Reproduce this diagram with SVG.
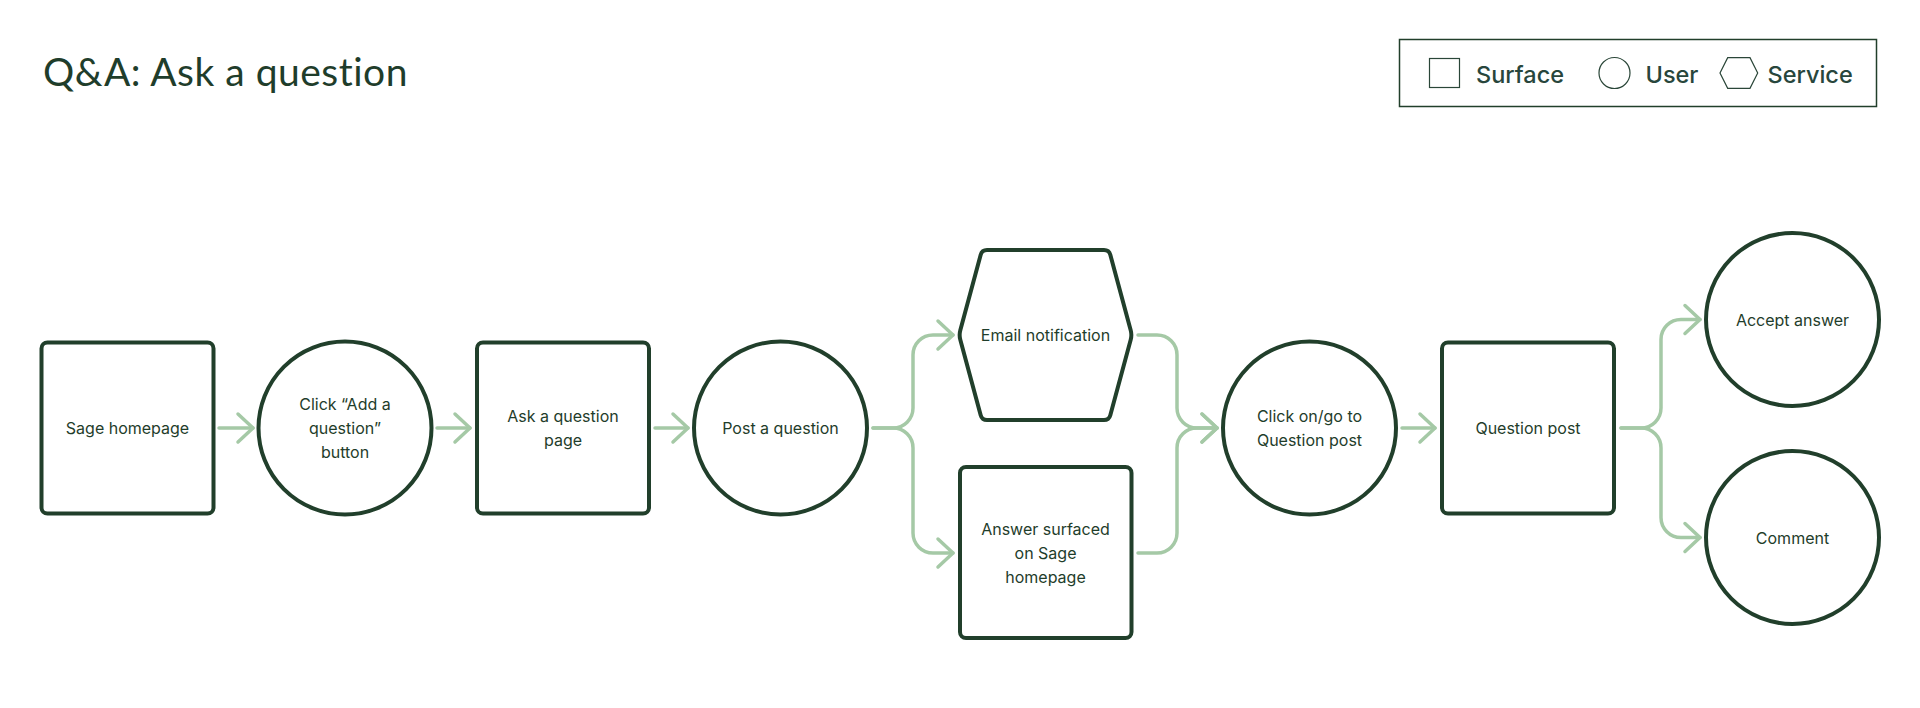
<svg xmlns="http://www.w3.org/2000/svg" width="1920" height="708" viewBox="0 0 1920 708">
<defs>
<style>
.node{fill:#ffffff;stroke:#213f2b;stroke-width:4;stroke-linejoin:round}
.lbl{font-family:Inter,"Noto Sans",sans-serif;font-size:16px;fill:#1f3d2b;text-anchor:middle}
.conn{fill:none;stroke:#a5c9a6;stroke-width:3.5;stroke-linecap:round;stroke-linejoin:round}
.leg{fill:none;stroke:#2a4638;stroke-width:1.2}
.legt{font-family:Inter,"Noto Sans",sans-serif;font-size:23.5px;font-weight:500;fill:#28463c}
</style>
<marker id="chev" markerUnits="userSpaceOnUse" markerWidth="40" markerHeight="40" viewBox="-20 -20 40 40" refX="0" refY="0" orient="auto">
<path d="M-15,-14 L0,0 L-15,14" fill="none" stroke="#a5c9a6" stroke-width="3.5" stroke-linecap="round" stroke-linejoin="round"/>
</marker>
</defs>
<rect width="1920" height="708" fill="#ffffff"/>
<text x="43" y="86" font-family="Lato,'Open Sans',sans-serif" font-size="39" letter-spacing="0.5" fill="#1f3d2b">Q&amp;A: Ask a question</text>
<g id="legend">
<rect x="1399.5" y="39.5" width="477" height="67" fill="none" stroke="#213f2b" stroke-width="1.5"/>
<rect x="1429.5" y="58.5" width="30" height="29" class="leg"/>
<text x="1476" y="82.5" class="legt">Surface</text>
<circle cx="1614.5" cy="73" r="15.5" class="leg"/>
<text x="1645.5" y="82.5" class="legt">User</text>
<polygon points="1720,73 1727.7,57.7 1750,57.7 1757.7,73 1750,88.3 1727.7,88.3" class="leg" stroke="#4f6a5a"/>
<text x="1767.5" y="82.5" class="legt">Service</text>
</g>
<g id="connectors">
<path class="conn" marker-end="url(#chev)" d="M219,428 H253"/>
<path class="conn" marker-end="url(#chev)" d="M437,428 H470"/>
<path class="conn" marker-end="url(#chev)" d="M655,428 H688"/>
<path class="conn" marker-end="url(#chev)" d="M873,428 H893 A20,20 0 0 0 913,408 V355 A20,20 0 0 1 933,335 H953"/>
<path class="conn" marker-end="url(#chev)" d="M873,428 H893 A20,20 0 0 1 913,448 V533 A20,20 0 0 0 933,553 H953"/>
<path class="conn" marker-end="url(#chev)" d="M1138,335 H1157 A20,20 0 0 1 1177,355 V408 A20,20 0 0 0 1197,428 H1217"/>
<path class="conn" marker-end="url(#chev)" d="M1138,553 H1157 A20,20 0 0 0 1177,533 V448 A20,20 0 0 1 1197,428 H1217"/>
<path class="conn" marker-end="url(#chev)" d="M1402,428 H1435"/>
<path class="conn" marker-end="url(#chev)" d="M1621,428 H1641 A20,20 0 0 0 1661,408 V339.5 A20,20 0 0 1 1681,319.5 H1700"/>
<path class="conn" marker-end="url(#chev)" d="M1621,428 H1641 A20,20 0 0 1 1661,448 V517.5 A20,20 0 0 0 1681,537.5 H1700"/>
</g>
<g id="sage-homepage">
<rect class="node" x="41.5" y="342.5" width="172" height="171" rx="6"/>
<text class="lbl" x="127.5" y="434">Sage homepage</text>
</g>
<g id="click-add-question">
<circle class="node" cx="345" cy="428" r="86.5"/>
<text class="lbl" x="345" y="410">Click “Add a</text>
<text class="lbl" x="345" y="434">question”</text>
<text class="lbl" x="345" y="458">button</text>
</g>
<g id="ask-question-page">
<rect class="node" x="477" y="342.5" width="172" height="171" rx="6"/>
<text class="lbl" x="563" y="422">Ask a question</text>
<text class="lbl" x="563" y="446">page</text>
</g>
<g id="post-question">
<circle class="node" cx="780.5" cy="428" r="86.5"/>
<text class="lbl" x="780.5" y="434">Post a question</text>
</g>
<g id="email-notification">
<path class="node" d="M960.3,330.2 L980.7,254.8 Q982,250 987,250 L1104,250 Q1109,250 1110.3,254.8 L1130.7,330.2 Q1132,335 1130.7,339.8 L1110.3,415.2 Q1109,420 1104,420 L987,420 Q982,420 980.7,415.2 L960.3,339.8 Q959,335 960.3,330.2 Z"/>
<text class="lbl" x="1045.5" y="341">Email notification</text>
</g>
<g id="answer-surfaced">
<rect class="node" x="960" y="467" width="171.5" height="171" rx="6"/>
<text class="lbl" x="1045.5" y="534.5">Answer surfaced</text>
<text class="lbl" x="1045.5" y="558.5">on Sage</text>
<text class="lbl" x="1045.5" y="582.5">homepage</text>
</g>
<g id="click-on-question-post">
<circle class="node" cx="1309.5" cy="428" r="86.5"/>
<text class="lbl" x="1309.5" y="422">Click on/go to</text>
<text class="lbl" x="1309.5" y="446">Question post</text>
</g>
<g id="question-post">
<rect class="node" x="1442" y="342.5" width="172" height="171" rx="6"/>
<text class="lbl" x="1528" y="434">Question post</text>
</g>
<g id="accept-answer">
<circle class="node" cx="1792.5" cy="319.5" r="86.5"/>
<text class="lbl" x="1792.5" y="325.5">Accept answer</text>
</g>
<g id="comment">
<circle class="node" cx="1792.5" cy="537.5" r="86.5"/>
<text class="lbl" x="1792.5" y="543.5">Comment</text>
</g>
</svg>
